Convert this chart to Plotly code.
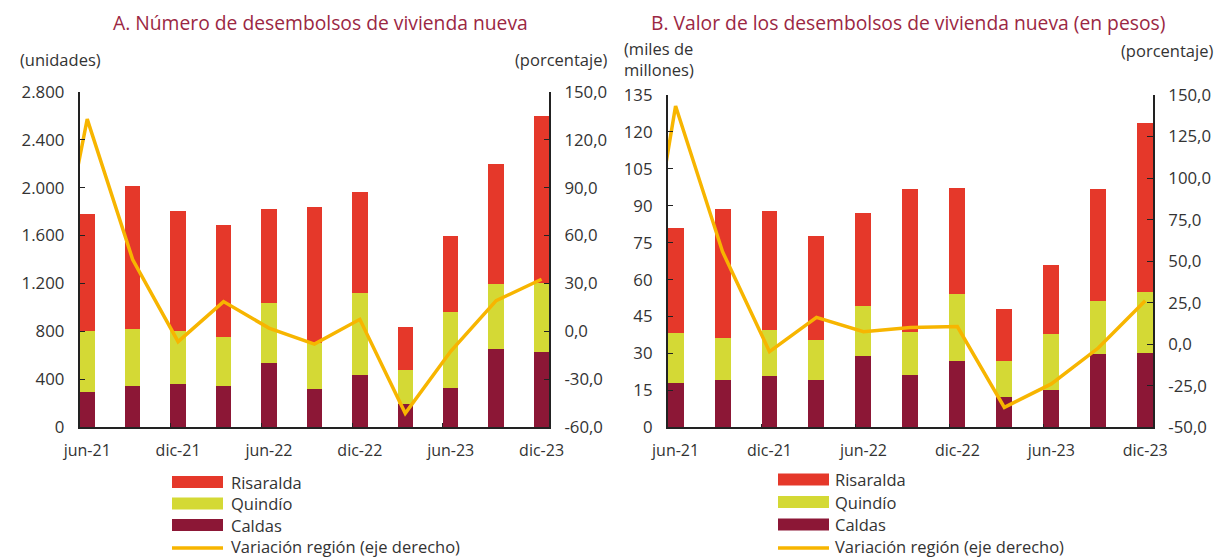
import plotly.graph_objects as go

# ---------------- data ----------------
categories = ["jun-21", "sep-21", "dic-21", "mar-22", "jun-22", "sep-22",
              "dic-22", "mar-23", "jun-23", "sep-23", "dic-23"]
line_categories = ["mar-21"] + categories  # first point lies left of the plot window

# Panel A: number of disbursements (units)
a_caldas = [295, 340, 360, 340, 532, 318, 435, 190, 329, 650, 630]
a_quindio = [505, 482, 440, 415, 505, 382, 688, 289, 630, 546, 571]
a_risaralda = [978, 1193, 1009, 934, 783, 1142, 839, 355, 635, 1000, 1402]
a_variacion = [-12.0, 133.0, 45.0, -6.5, 18.6, 2.0, -8.0, 7.5, -51.4, -12.5, 19.2, 32.6]

# Panel B: value of disbursements (thousand millions of pesos)
b_caldas = [18.1, 19.2, 20.8, 19.2, 29.1, 21.2, 27.1, 12.4, 15.0, 29.7, 30.1]
b_quindio = [20.3, 17.2, 18.7, 16.1, 20.3, 17.6, 27.1, 14.7, 22.9, 21.7, 25.0]
b_risaralda = [42.7, 52.2, 48.5, 42.3, 37.5, 57.9, 43.1, 20.8, 28.0, 45.3, 68.4]
b_variacion = [-26.0, 143.4, 55.7, -4.5, 16.2, 7.5, 10.0, 10.6, -38.0, -23.9, -2.3, 26.2]

a_left_ticks = list(range(0, 2801, 400))
a_right_ticks = list(range(-60, 151, 30))
b_left_ticks = list(range(0, 136, 15))
b_right_ticks = list(range(-50, 151, 25))

series_names = ["Caldas", "Quindío", "Risaralda"]
legend_labels = ["Risaralda", "Quindío", "Caldas", "Variación región (eje derecho)"]
titles = ["A. Número de desembolsos de vivienda nueva",
          "B. Valor de los desembolsos de vivienda nueva (en pesos)"]

# ---------------- style ----------------
VIEW_W, VIEW_H = 1228, 558
OFF = 8                      # page body margin of the browser
W, H = VIEW_W - OFF, VIEW_H - OFF
FONT = "'Open Sans', Lato, sans-serif"
TXT = "#333333"
TITLE_C = "#9b2743"
C_RIS = "#e5382a"
C_QUI = "#d4d935"
C_CAL = "#8c1736"
C_LINE = "#f7b500"
colors = {"Caldas": C_CAL, "Quindío": C_QUI, "Risaralda": C_RIS}
BAR_W = 0.34


def px(x):
    return (x - OFF) / W


def py(y):
    return 1 - (y - OFF) / H


def fmt_thousands(v):
    return f"{v:,.0f}".replace(",", ".")


def fmt_dec(v):
    return f"{v:.1f}".replace(".", ",")


xpos = list(range(len(categories)))
xpos_line = [i - 1 for i in range(len(line_categories))]

fig = go.Figure()

panels = [
    ("x", "y", "y2", [a_caldas, a_quindio, a_risaralda], a_variacion),
    ("x2", "y3", "y4", [b_caldas, b_quindio, b_risaralda], b_variacion),
]
for xa, ya, ya2, stacks, var in panels:
    for name, vals in zip(series_names, stacks):
        fig.add_trace(go.Bar(x=xpos, y=vals, name=name, width=BAR_W,
                             marker=dict(color=colors[name], line=dict(width=0)),
                             xaxis=xa, yaxis=ya, showlegend=False))
    fig.add_trace(go.Scatter(x=xpos_line, y=var, mode="lines",
                             name="Variación región (eje derecho)",
                             line=dict(color=C_LINE, width=3.5),
                             xaxis=xa, yaxis=ya2, showlegend=False))

xtickfont = dict(family=FONT, size=16, color=TXT)
ytickfont = dict(family=FONT, size=16.8, color=TXT)
xr = [-BAR_W / 2, len(categories) - 1 + BAR_W / 2]
major_x = xpos[::2]
minor_x = [k - BAR_W / 2 for k in xpos[2:-1:2]]


def xaxis(domain, anchor):
    return dict(domain=domain, anchor=anchor, range=xr, showline=True,
                linecolor="#222", linewidth=1.5, showgrid=False, zeroline=False,
                automargin=False,
                tickmode="array", tickvals=major_x,
                ticktext=[categories[i] for i in major_x], ticks="",
                tickfont=xtickfont, ticklabelstandoff=8,
                minor=dict(tickmode="array", tickvals=minor_x, ticks="inside",
                           ticklen=4, tickcolor="#222", tickwidth=1, showgrid=False))


def yaxis(domain, anchor, ticks, fmt, side="left", overlaying=None):
    d = dict(domain=domain, anchor=anchor, range=[ticks[0], ticks[-1]],
             showline=True, linecolor="#222", linewidth=1.5, showgrid=False,
             zeroline=False, automargin=False, tickmode="array", tickvals=ticks,
             ticktext=[fmt(v) for v in ticks], ticks="inside", ticklen=6,
             tickcolor="#222", tickfont=ytickfont, side=side, ticklabelstandoff=10)
    if overlaying:
        d["overlaying"] = overlaying
    return d


dom_ax = [px(79.5), px(549.3)]
dom_bx = [px(667.6), px(1153.2)]
dom_ay = [py(427), py(92)]
dom_by = [py(427.3), py(95)]

fig.update_layout(
    width=W, height=H,
    margin=dict(l=0, r=0, t=0, b=0, autoexpand=False),
    paper_bgcolor="white", plot_bgcolor="white",
    barmode="stack",
    font=dict(family=FONT, size=16, color=TXT),
    xaxis=xaxis(dom_ax, "y"),
    yaxis=yaxis(dom_ay, "x", a_left_ticks, fmt_thousands),
    yaxis2=yaxis(dom_ay, "x", a_right_ticks, fmt_dec, side="right", overlaying="y"),
    xaxis2=xaxis(dom_bx, "y3"),
    yaxis3=yaxis(dom_by, "x2", b_left_ticks, fmt_thousands),
    yaxis4=yaxis(dom_by, "x2", b_right_ticks, fmt_dec, side="right", overlaying="y3"),
)


def note(text, x, y, xanchor="left", font=None, align="left", yanchor="middle"):
    return dict(text=text, x=px(x), y=py(y), xref="paper", yref="paper",
                xanchor=xanchor, yanchor=yanchor, align=align, showarrow=False,
                borderpad=0,
                font=font or dict(family=FONT, size=16.5, color=TXT))


title_font = dict(family=FONT, size=19.3, color=TITLE_C)
unit_font = dict(family=FONT, size=16.5, color=TXT)
ann = [
    note(titles[0], 320, OFF, "center", title_font, yanchor="top"),
    note(titles[1], 908, OFF, "center", title_font, yanchor="top"),
    note("(unidades)", 19, 60, "left", unit_font),
    note("(porcentaje)", 608, 60, "right", unit_font),
    note("(miles de<br>millones)", 623, 59, "left", unit_font),
    note("(porcentaje)", 1214, 50, "right", unit_font),
]

shapes = []
legend_colors = [C_RIS, C_QUI, C_CAL, C_LINE]
for sx0, sx1, tx, ys in [(172, 223, 230, [482, 503.5, 525, 546.5]),
                         (778, 829, 834, [479.5, 502, 524.5, 546.5])]:
    for i, (lab, col, yy) in enumerate(zip(legend_labels, legend_colors, ys)):
        if i < 3:
            shapes.append(dict(type="rect", xref="paper", yref="paper",
                               x0=px(sx0), x1=px(sx1), y0=py(yy + 6), y1=py(yy - 6),
                               fillcolor=col, line=dict(width=0)))
        else:
            shapes.append(dict(type="line", xref="paper", yref="paper",
                               x0=px(sx0), x1=px(sx1), y0=py(yy + 1.5), y1=py(yy + 1.5),
                               line=dict(color=col, width=3.5)))
        ann.append(note(lab, tx, yy))

fig.update_layout(annotations=ann, shapes=shapes)
fig.write_html("out.html")
